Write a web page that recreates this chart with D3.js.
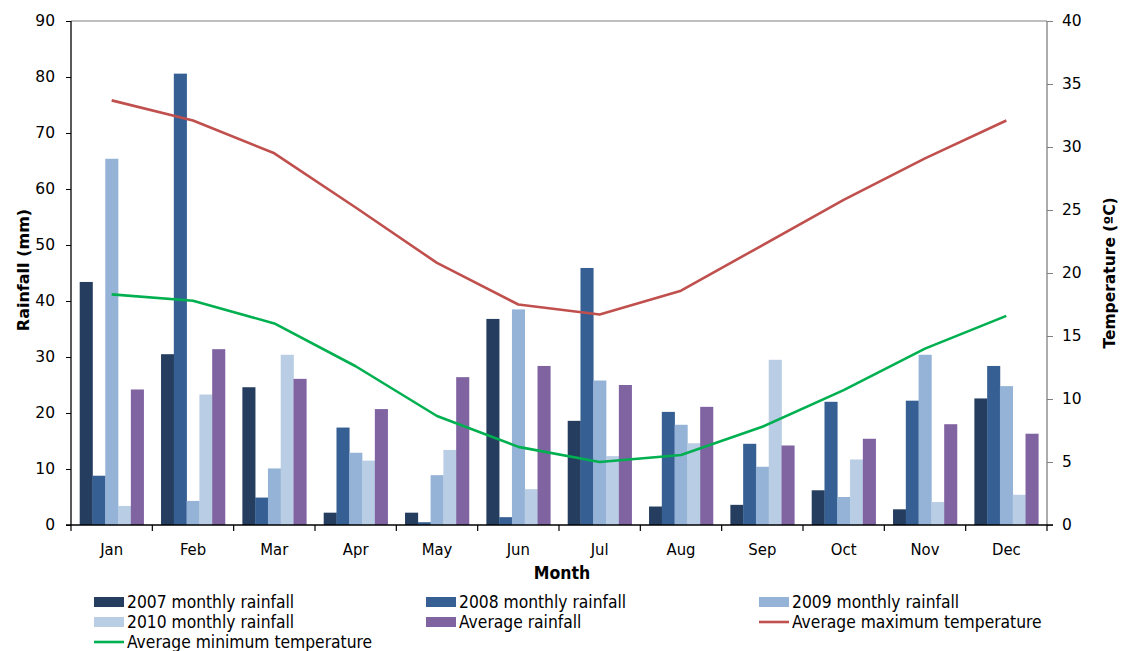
<!DOCTYPE html>
<html><head><meta charset="utf-8">
<script src="https://cdn.jsdelivr.net/npm/d3@7"></script>
<style>body{margin:0;background:#fff;} svg{display:block;}</style>
</head><body>
<svg id="c" width="1124" height="651"></svg>
<script>
const months = ["Jan","Feb","Mar","Apr","May","Jun","Jul","Aug","Sep","Oct","Nov","Dec"];
const rain2007 = [43.4,30.5,24.6,2.2,2.2,36.8,18.6,3.3,3.6,6.2,2.8,22.6];
const rain2008 = [8.8,80.6,4.9,17.4,0.5,1.4,45.9,20.2,14.5,22.0,22.2,28.4];
const rain2009 = [65.4,4.3,10.1,12.9,8.9,38.5,25.8,17.9,10.4,5.0,30.4,24.8];
const rain2010 = [3.4,23.3,30.4,11.5,13.4,6.4,12.3,14.6,29.5,11.7,4.1,5.4];
const rainAvg  = [24.2,31.4,26.1,20.7,26.4,28.4,25.0,21.1,14.2,15.4,18.0,16.3];
const tempMax  = [33.7,32.1,29.5,25.2,20.8,17.5,16.7,18.6,22.2,25.8,29.1,32.1];
const tempMin  = [18.3,17.8,16.0,12.6,8.65,6.2,5.0,5.56,7.8,10.7,14.0,16.6];
const rainTicks = [0,10,20,30,40,50,60,70,80,90];
const tempTicks = [0,5,10,15,20,25,30,35,40];

const barSeries = [
  {name:"2007 monthly rainfall", values:rain2007, color:"#253E5F"},
  {name:"2008 monthly rainfall", values:rain2008, color:"#366093"},
  {name:"2009 monthly rainfall", values:rain2009, color:"#95B3D7"},
  {name:"2010 monthly rainfall", values:rain2010, color:"#B9CDE5"},
  {name:"Average rainfall", values:rainAvg, color:"#8064A2"}
];
const lineSeries = [
  {name:"Average maximum temperature", values:tempMax, color:"#C0504D"},
  {name:"Average minimum temperature", values:tempMin, color:"#00B050"}
];

const L=71, R=1047, T=21, B=525;
const svg = d3.select("#c");
const x0 = d3.scaleBand().domain(months).range([L,R]);
const bw = x0.bandwidth();
const x1 = d3.scaleBand().domain(barSeries.map(d=>d.name)).range([bw*0.107, bw*0.893]);
const yR = d3.scaleLinear().domain([0,90]).range([B,T]);
const yT = d3.scaleLinear().domain([0,40]).range([B,T]);

// top border
svg.append("line").attr("x1",L).attr("x2",R).attr("y1",T).attr("y2",T).attr("stroke","#808080").attr("stroke-width",1.2);

// bars
barSeries.forEach(s=>{
  svg.append("g").selectAll("rect").data(s.values).join("rect")
    .attr("x",(d,i)=>x0(months[i])+x1(s.name))
    .attr("width",x1.bandwidth()+0.3)
    .attr("y",d=>yR(d))
    .attr("height",d=>B-yR(d))
    .attr("fill",s.color);
});

// lines
lineSeries.forEach(s=>{
  const line = d3.line().x((d,i)=>x0(months[i])+bw/2).y(d=>yT(d));
  svg.append("path").datum(s.values).attr("d",line).attr("fill","none")
    .attr("stroke",s.color).attr("stroke-width",2.6).attr("stroke-linejoin","round");
});

// left axis
const gL = svg.append("g").attr("transform",`translate(${L},0)`)
  .call(d3.axisLeft(yR).tickValues(rainTicks).tickSize(5).tickPadding(11));
gL.select(".domain").attr("stroke","#000").attr("stroke-width",1.3).attr("d",`M0,${T}V${B}`);
gL.selectAll(".tick line").attr("stroke","#000");
gL.selectAll("text").attr("font-family","Verdana, 'DejaVu Sans', sans-serif").attr("font-size",15.5).attr("fill","#000");

// right axis
const gR = svg.append("g").attr("transform",`translate(${R},0)`)
  .call(d3.axisRight(yT).tickValues(tempTicks).tickSize(6).tickPadding(9));
gR.select(".domain").attr("stroke","#808080").attr("stroke-width",1.3).attr("d",`M0,${T}V${B}`);
gR.selectAll(".tick line").attr("stroke","#808080");
gR.selectAll("text").attr("font-family","Verdana, 'DejaVu Sans', sans-serif").attr("font-size",15.5).attr("fill","#000");

// bottom axis
svg.append("line").attr("x1",L-5).attr("x2",R+6).attr("y1",B).attr("y2",B).attr("stroke","#000").attr("stroke-width",1.3);
const boundaries = months.map(m=>x0(m)).concat([R]);
svg.append("g").selectAll("line").data(boundaries).join("line")
  .attr("x1",d=>d).attr("x2",d=>d).attr("y1",B).attr("y2",B+6).attr("stroke","#000").attr("stroke-width",1.2);
svg.append("g").selectAll("text").data(months).join("text")
  .attr("x",d=>x0(d)+bw/2).attr("y",B+30).attr("text-anchor","middle")
  .attr("font-family","'DejaVu Sans Condensed', 'DejaVu Sans', sans-serif").attr("font-size",16.5)
  .text(d=>d);

// axis titles
svg.append("text").attr("x",562).attr("y",579).attr("text-anchor","middle")
  .attr("font-family","'DejaVu Sans Condensed', 'DejaVu Sans', sans-serif").attr("font-weight","bold").attr("font-size",17.5).text("Month");
svg.append("text").attr("transform","translate(29,270) rotate(-90)").attr("text-anchor","middle")
  .attr("font-family","Verdana, 'DejaVu Sans', sans-serif").attr("font-weight","bold").attr("font-size",16).text("Rainfall (mm)");
svg.append("text").attr("transform","translate(1115,273) rotate(-90)").attr("text-anchor","middle")
  .attr("font-family","Verdana, 'DejaVu Sans', sans-serif").attr("font-weight","bold").attr("font-size",15.5).text("Temperature (ºC)");

// legend
const legendItems = barSeries.map(s=>({name:s.name,color:s.color,type:"bar"}))
  .concat(lineSeries.map(s=>({name:s.name,color:s.color,type:"line"})));
const colX=[94,426,759], rowY=[602,622,642];
legendItems.forEach((it,i)=>{
  const cx=colX[i%3], cy=rowY[Math.floor(i/3)];
  if(it.type==="bar"){
    svg.append("rect").attr("x",cx).attr("y",cy-5).attr("width",30).attr("height",10).attr("fill",it.color);
  } else {
    svg.append("line").attr("x1",cx).attr("x2",cx+30).attr("y1",cy).attr("y2",cy).attr("stroke",it.color).attr("stroke-width",2.6);
  }
  svg.append("text").attr("x",cx+33).attr("y",cy+6)
    .attr("font-family","'DejaVu Sans Condensed', 'DejaVu Sans', sans-serif").attr("font-size",17.3).text(it.name);
});
</script>
</body></html>
